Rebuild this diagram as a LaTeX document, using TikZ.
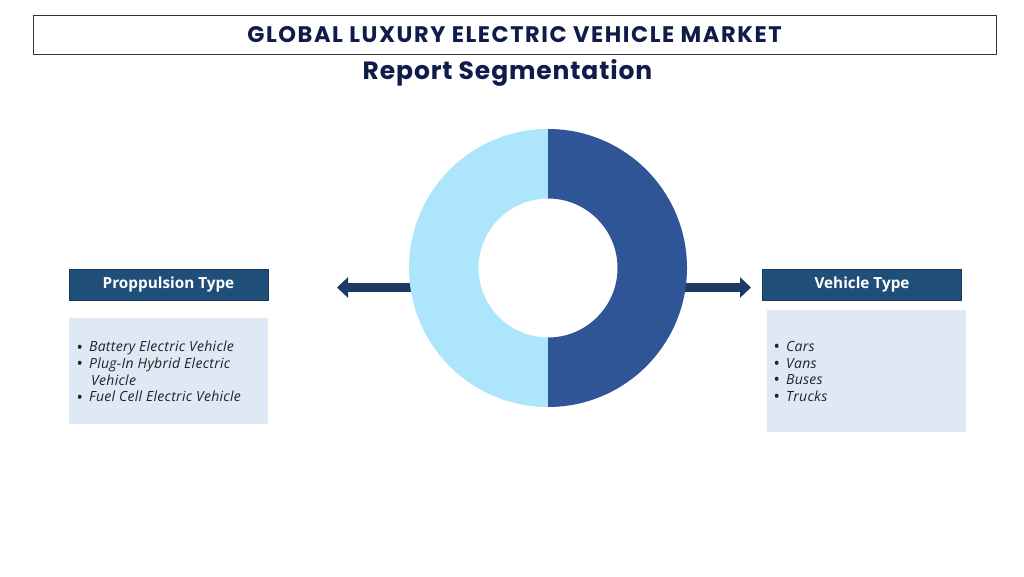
\documentclass[tikz,border=0pt]{standalone}
\usepackage{fontspec}
\setmainfont{Open Sans}
\newfontfamily\titlefont[LetterSpace=7]{Poppins}
\newfontfamily\subfont[LetterSpace=3.5]{Poppins}
\newfontfamily\itemfont[LetterSpace=2]{Open Sans}
\usetikzlibrary{arrows.meta}

\definecolor{navy}{HTML}{0F1C4A}
\definecolor{headblue}{HTML}{1F4E79}
\definecolor{headedge}{HTML}{17395A}
\definecolor{listblue}{HTML}{DFE9F5}
\definecolor{arrowblue}{HTML}{1F3864}
\definecolor{darkhalf}{HTML}{2F5597}
\definecolor{lighthalf}{HTML}{ADE5FC}
\definecolor{itemgray}{HTML}{222222}

\newcommand{\bul}{\raisebox{-1.2pt}{\upshape\fontsize{17}{16.7}\selectfont\textbullet}\hspace{6pt}}

\begin{document}
\begin{tikzpicture}[x=1pt, y=1pt, line join=round,
	head/.style={draw=headedge, fill=headblue, text=white, font=\bfseries\fontsize{15.3}{17}\selectfont, minimum width=199pt, minimum height=31pt, inner sep=0pt},
	listbox/.style={fill=listblue, minimum width=199pt, inner sep=0pt},
	items/.style={anchor=north west, align=left, text=itemgray, inner sep=0pt, font=\itemfont\itshape\fontsize{14}{16.7}\selectfont},
	link/.style={draw=arrowblue, line width=9pt, -{Triangle[width=20pt, length=11pt]}}]

	\useasboundingbox (0,0) rectangle (1024,576);
	\fill[white] (0,0) rectangle (1024,576);

	% title
	\node[draw=black!80, line width=0.6pt, minimum width=963pt, minimum height=39pt, inner sep=0pt] (title) at (514.5,541.5) {};
	\node[text=navy, font=\titlefont\bfseries\fontsize{22.5}{26}\selectfont] at (title.center) {GLOBAL LUXURY ELECTRIC VEHICLE MARKET};
	\node[text=navy, font=\subfont\bfseries\fontsize{25}{28}\selectfont] (sub) at (507.5,503) {Report Segmentation};

	% arrows (under the ring)
	\coordinate (ringc) at (548,308);
	\coordinate (lstart) at (430,288.5);
	\coordinate (ltip) at (337,288.5);
	\coordinate (rstart) at (666,288.5);
	\coordinate (rtip) at (751,288.5);
	\draw[link] (lstart) -- (ltip);
	\draw[link] (rstart) -- (rtip);

	% ring
	\fill[lighthalf] (548,447) arc (90:270:139) -- (548,238.5) arc (270:90:69.5) -- cycle;
	\fill[darkhalf] (548,447) arc (90:-90:139) -- (548,238.5) arc (-90:90:69.5) -- cycle;

	% left segment
	\node[head] (prop) at (168.5,291.5) {Proppulsion Type};
	\node[listbox, minimum height=106pt] (propbox) at (168,205) {};
	\node[items] (propitems) at (76.5,235) {%
		\bul Battery Electric Vehicle\\
		\bul Plug-In Hybrid Electric\\
		\hspace*{14.5pt}Vehicle\\
		\bul Fuel Cell Electric Vehicle};

	% right segment
	\node[head] (veh) at (862,291.5) {Vehicle Type};
	\node[listbox, minimum height=122pt] (vehbox) at (866,205) {};
	\node[items] (vehitems) at (773.5,235) {%
		\bul Cars\\
		\bul Vans\\
		\bul Buses\\
		\bul Trucks};

\end{tikzpicture}
\end{document}
